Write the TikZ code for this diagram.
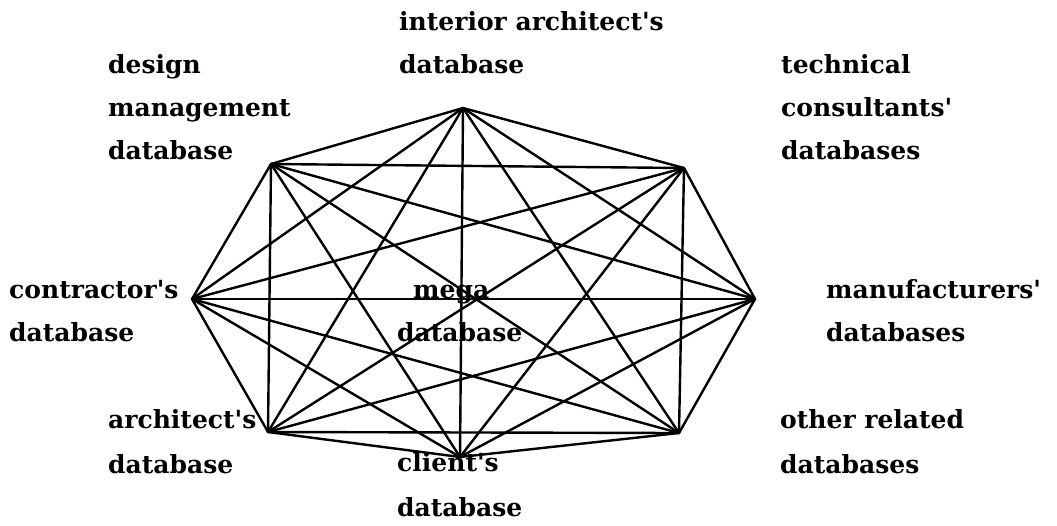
\documentclass[tikz,border=0pt]{standalone}
\usepackage{fontspec}
\setmainfont{DejaVu Serif}[Ligatures=TeXOff]
\begin{document}
\begin{tikzpicture}[x=1pt,y=-1pt,
  lbl/.style={anchor=mid west, inner sep=0pt, font=\fontsize{25}{30}\selectfont\bfseries},
  edge/.style={line width=2.4pt, line cap=round, line join=round},
  vert/.style={coordinate}]
\useasboundingbox (0,0) rectangle (1057,525);
% vertices
\node[vert] (v1) at (463,108) {};
\node[vert] (v2) at (684,168) {};
\node[vert] (v3) at (755,299) {};
\node[vert] (v4) at (679,433) {};
\node[vert] (v5) at (460,457) {};
\node[vert] (v6) at (268,432) {};
\node[vert] (v7) at (192,299) {};
\node[vert] (v8) at (271,164) {};
% complete graph
\foreach \i in {1,...,8}{
  \foreach \j in {1,...,8}{
    \ifnum\i<\j \draw[edge] (v\i) -- (v\j); \fi
  }
}
% labels
\node[lbl] (t1a) at (399,28) {interior architect's};
\node[lbl] (t1b) at (399,71) {database};
\node[lbl] (t2a) at (781,71) {technical};
\node[lbl] (t2b) at (781,114) {consultants'};
\node[lbl] (t2c) at (781,157) {databases};
\node[lbl] (t3a) at (826,296) {manufacturers'};
\node[lbl] (t3b) at (826,339) {databases};
\node[lbl] (t4a) at (780,426) {other related};
\node[lbl] (t4b) at (780,471) {databases};
\node[lbl] (t5a) at (397,469) {client's};
\node[lbl] (t5b) at (397,514) {database};
\node[lbl] (t6a) at (108,426) {architect's};
\node[lbl] (t6b) at (108,471) {database};
\node[lbl] (t7a) at (9,296) {contractor's};
\node[lbl] (t7b) at (9,339) {database};
\node[lbl] (t8a) at (108,71) {design};
\node[lbl] (t8b) at (108,114) {management};
\node[lbl] (t8c) at (108,157) {database};
\node[lbl] (m1) at (413,296) {mega};
\node[lbl] (m2) at (397,339) {database};
\end{tikzpicture}
\end{document}
